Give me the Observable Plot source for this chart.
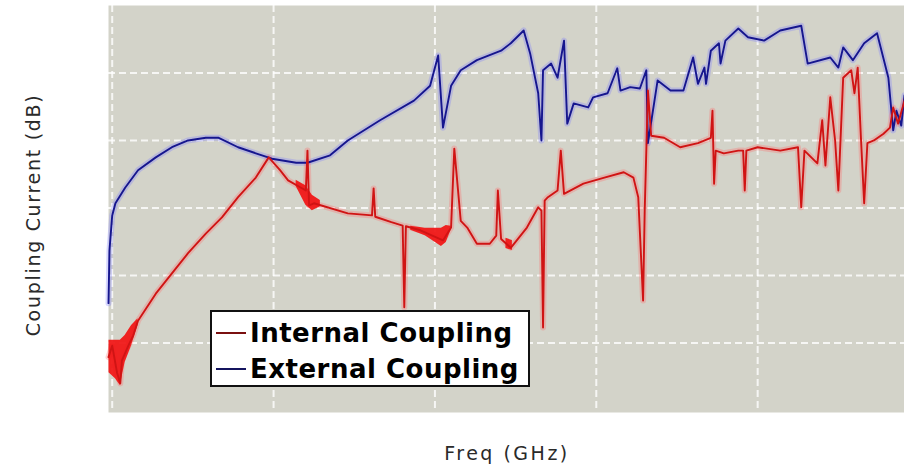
<!DOCTYPE html>
<html>
<head>
<meta charset="utf-8">
<script src="https://cdn.jsdelivr.net/npm/d3@7"></script>
<script src="https://cdn.jsdelivr.net/npm/@observablehq/plot@0.6"></script>
<style>
  html, body { margin: 0; padding: 0; background: #ffffff; }
  #wrap { position: relative; width: 904px; height: 465px; overflow: hidden; }
  #chart svg { display: block; }
  .ylab { position: absolute; left: 33px; top: 215px; transform: translate(-50%, -50%) rotate(-90deg);
          font: 19px "DejaVu Sans", sans-serif; letter-spacing: 1.7px; color: #2a2a2a; white-space: nowrap; }
  .xlab { position: absolute; left: 507px; top: 444px; transform: translateX(-50%);
          font: 19px "DejaVu Sans", sans-serif; letter-spacing: 2.5px; color: #2a2a2a; white-space: nowrap; line-height: 19px; }
  #legend { position: absolute; left: 210px; top: 310px; width: 320px; height: 77px; background: #fff;
            border: 2px solid #111; box-sizing: border-box; font: bold 26px "DejaVu Sans", sans-serif;
            letter-spacing: 0.5px; color: #000; }
  #legend .row { position: absolute; left: 0; height: 30px; line-height: 30px; white-space: nowrap; }
  #legend .sw { position: absolute; left: 4px; width: 30px; height: 2px; }
  #legend .tx { position: absolute; left: 38px; top: 0; }
</style>
</head>
<body>
<div id="wrap">
  <div id="chart"></div>
  <div class="ylab">Coupling Current (dB)</div>
  <div class="xlab">Freq (GHz)</div>
  <div id="legend"></div>
</div>
<script>
// ---- Data ----
const seriesNames = ["Internal Coupling", "External Coupling"];

// External Coupling (blue)
const extFreq = [-0.023, -0.017, 0.00, 0.02, 0.08, 0.16, 0.27, 0.37, 0.47, 0.58, 0.66, 0.78, 0.89, 0.99, 1.14, 1.21, 1.35, 1.46, 1.66, 1.87, 1.97, 2.02, 2.05, 2.10, 2.16, 2.26, 2.41, 2.47, 2.55, 2.59, 2.64, 2.66, 2.67, 2.72, 2.76, 2.80, 2.82, 2.86, 2.95, 2.98, 3.07, 3.13, 3.15, 3.21, 3.27, 3.31, 3.32, 3.38, 3.46, 3.54, 3.60, 3.63, 3.67, 3.68, 3.71, 3.76, 3.77, 3.80, 3.88, 3.94, 4.04, 4.14, 4.27, 4.31, 4.45, 4.50, 4.53, 4.59, 4.66, 4.74, 4.81, 4.84, 4.86, 4.89, 4.91];
const extDb = [-54.1, -46.3, -41.1, -39.3, -37.0, -34.4, -32.5, -31.0, -30.0, -29.6, -29.6, -31.0, -31.9, -32.7, -33.3, -33.3, -32.2, -30.0, -27.0, -24.1, -21.9, -17.4, -28.1, -21.9, -19.6, -18.1, -16.7, -15.6, -13.7, -17.1, -23.0, -30.0, -19.6, -18.6, -20.7, -15.2, -27.5, -24.5, -25.1, -23.6, -23.0, -19.3, -22.6, -22.1, -22.3, -19.6, -30.4, -21.1, -22.6, -22.6, -17.7, -21.6, -19.2, -21.6, -16.7, -15.6, -18.6, -15.2, -13.4, -14.7, -15.2, -13.7, -13.0, -18.6, -17.7, -19.2, -16.2, -18.1, -15.6, -14.1, -20.7, -28.5, -25.6, -27.8, -23.3];

// Internal Coupling (red)
const intFreq = [-0.023, 0.00, 0.03, 0.05, 0.06, 0.10, 0.13, 0.16, 0.27, 0.37, 0.47, 0.58, 0.68, 0.78, 0.89, 0.97, 1.04, 1.09, 1.17, 1.20, 1.21, 1.22, 1.25, 1.46, 1.61, 1.62, 1.63, 1.73, 1.80, 1.81, 1.82, 1.91, 2.05, 2.10, 2.12, 2.16, 2.20, 2.26, 2.34, 2.38, 2.39, 2.41, 2.47, 2.57, 2.64, 2.66, 2.67, 2.68, 2.70, 2.76, 2.78, 2.80, 2.92, 3.05, 3.17, 3.23, 3.26, 3.29, 3.30, 3.32, 3.34, 3.42, 3.52, 3.63, 3.71, 3.72, 3.73, 3.74, 3.79, 3.88, 3.91, 3.92, 3.93, 4.00, 4.14, 4.25, 4.27, 4.29, 4.37, 4.40, 4.42, 4.45, 4.48, 4.50, 4.53, 4.58, 4.60, 4.62, 4.64, 4.66, 4.68, 4.72, 4.78, 4.82, 4.84, 4.87, 4.91];
const intDb = [-62.1, -60.4, -64.4, -66.0, -62.6, -60.4, -58.9, -56.7, -52.7, -49.7, -46.7, -43.8, -41.4, -38.4, -35.5, -32.5, -34.4, -35.9, -37.0, -37.4, -31.5, -39.6, -39.3, -40.8, -41.1, -37.1, -41.3, -42.1, -42.6, -54.7, -42.7, -43.3, -44.8, -42.9, -31.2, -41.9, -42.9, -45.3, -45.3, -44.1, -37.4, -44.6, -45.9, -42.9, -39.9, -40.4, -57.7, -38.9, -38.4, -37.4, -31.5, -37.9, -36.4, -35.5, -34.7, -35.5, -38.4, -53.7, -40.4, -22.6, -29.3, -29.6, -31.0, -30.4, -29.6, -25.6, -36.4, -31.5, -31.9, -31.5, -31.5, -37.4, -31.5, -31.0, -31.5, -31.0, -39.9, -31.5, -33.4, -27.0, -33.7, -23.6, -30.0, -37.4, -20.7, -19.6, -23.0, -19.2, -29.6, -39.3, -30.4, -30.0, -29.0, -28.1, -25.1, -27.5, -24.1];

// Thick (filled) parts of the internal curve: envelope low/high per group
const bandGroup = ["a", "a", "a", "a", "a", "a", "b", "b", "b", "b", "c", "c", "c", "c", "c", "d", "d"];
const bandFreq  = [-0.02, 0.02, 0.05, 0.08, 0.12, 0.16, 1.14, 1.20, 1.24, 1.29, 1.85, 1.94, 2.04, 2.07, 2.10, 2.44, 2.48];
const bandLo    = [-64.4, -65.3, -66.3, -62.9, -60.4, -57.4, -36.8, -39.6, -40.4, -39.8, -43.3, -44.1, -45.7, -45.1, -43.3, -46.0, -46.3];
const bandHi    = [-59.6, -59.6, -59.6, -58.9, -57.4, -56.4, -35.9, -36.7, -38.1, -38.9, -42.7, -43.0, -43.0, -42.6, -42.7, -44.5, -44.8];

// Grid positions (no tick labels are shown in the reference)
const xGrid = [0, 1, 2, 3, 4];
const yGrid = [-20, -30, -40, -50, -60];

const colors = { "Internal Coupling": "#d01414", "External Coupling": "#16168e" };
const halo   = { "Internal Coupling": "#ff6a6a", "External Coupling": "#7a7aff" };
const swatch = { "Internal Coupling": "#7a1010", "External Coupling": "#14145e" };

// ---- Build tables ----
const ext = extFreq.map((f, i) => ({ f, db: extDb[i], s: "External Coupling" }));
const int = intFreq.map((f, i) => ({ f, db: intDb[i], s: "Internal Coupling" }));
const band = bandFreq.map((f, i) => ({ f, lo: bandLo[i], hi: bandHi[i], g: bandGroup[i] }));

const chart = Plot.plot({
  width: 904,
  height: 465,
  marginLeft: 108,
  marginRight: 0,
  marginTop: 5,
  marginBottom: 53,
  x: { domain: [-0.023, 4.91], axis: null },
  y: { domain: [-70.3, -10], axis: null },
  marks: [
    Plot.frame({ fill: "#d3d3c9", stroke: null }),
    Plot.gridX(xGrid, { stroke: "#ffffff", strokeOpacity: 0.8, strokeWidth: 2, strokeDasharray: "7,4" }),
    Plot.gridY(yGrid, { stroke: "#ffffff", strokeOpacity: 0.8, strokeWidth: 2, strokeDasharray: "7,4" }),
    // soft halos
    Plot.line(ext, { x: "f", y: "db", stroke: halo["External Coupling"], strokeOpacity: 0.3, strokeWidth: 6 }),
    Plot.line(int, { x: "f", y: "db", stroke: halo["Internal Coupling"], strokeOpacity: 0.3, strokeWidth: 6 }),
    // thick parts of internal curve
    Plot.areaY(band, { x: "f", y1: "lo", y2: "hi", z: "g", fill: "#f01818", fillOpacity: 0.95, curve: "linear" }),
    // core lines
    Plot.line(ext, { x: "f", y: "db", stroke: colors["External Coupling"], strokeWidth: 1.9 }),
    Plot.line(int, { x: "f", y: "db", stroke: colors["Internal Coupling"], strokeWidth: 1.9 })
  ]
});
document.getElementById("chart").append(chart);

// ---- Legend (HTML text) ----
const legend = document.getElementById("legend");
seriesNames.forEach((name, i) => {
  const row = document.createElement("div");
  row.className = "row";
  row.style.top = (6 + i * 36) + "px";
  row.style.width = "100%";
  const sw = document.createElement("span");
  sw.className = "sw";
  sw.style.top = "14px";
  sw.style.background = swatch[name];
  const tx = document.createElement("span");
  tx.className = "tx";
  tx.textContent = name;
  row.append(sw, tx);
  legend.append(row);
});
</script>
</body>
</html>
